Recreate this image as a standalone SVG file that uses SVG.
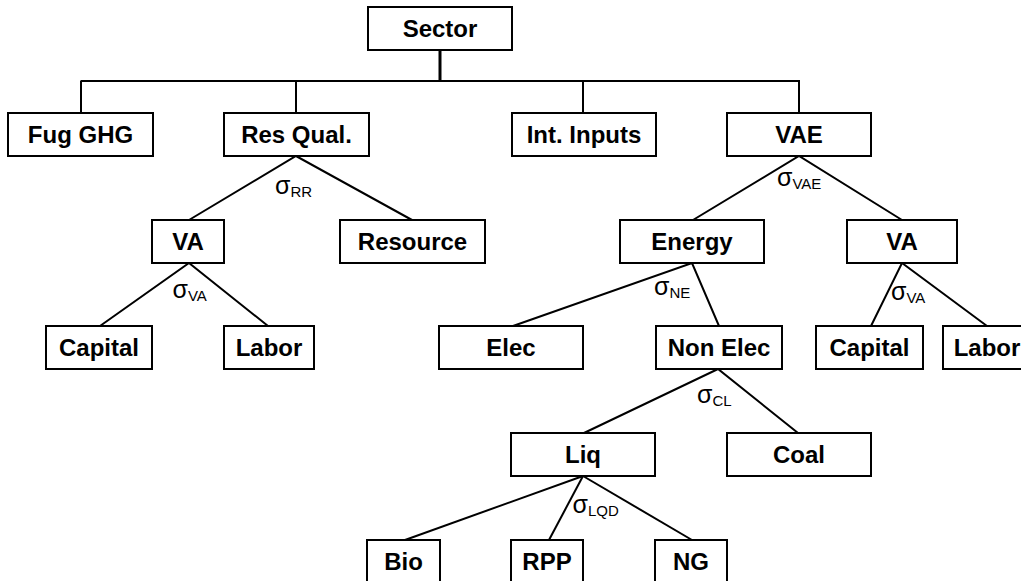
<svg xmlns="http://www.w3.org/2000/svg" width="1021" height="581" viewBox="0 0 1021 581">
<style>
.box{fill:#fff;stroke:#000;stroke-width:2}
.lbl{font-family:"Liberation Sans",Arial,sans-serif;font-weight:bold;font-size:24px;text-anchor:middle;fill:#000}
.sig{font-family:"Liberation Sans",Arial,sans-serif;font-size:25px;fill:#000}
.sub{font-size:15px}
#connectors line,#connectors polyline{stroke:#000;stroke-width:2;fill:none}
</style>
<rect width="1021" height="581" fill="#fff"/>
<g id="connectors">
<line x1="440" y1="50" x2="440" y2="81" style="stroke-width:3"/>
<line x1="80.5" y1="81" x2="799" y2="81"/>
<line x1="81" y1="81" x2="81" y2="113"/>
<line x1="296" y1="81" x2="296" y2="113"/>
<line x1="583" y1="81" x2="583" y2="113"/>
<line x1="799" y1="80" x2="799" y2="113"/>
<polyline points="189,220 296,156 412,220"/>
<polyline points="100,326 189,263 268,326"/>
<polyline points="693,220 799,156 902,220"/>
<polyline points="513,326 692,263 719,326"/>
<polyline points="871,326 902,263 987,326"/>
<polyline points="584,433 718,369 798,433"/>
<line x1="583" y1="476" x2="405" y2="540"/>
<line x1="583" y1="476" x2="549" y2="540"/>
<line x1="583" y1="476" x2="692" y2="540"/>
</g>
<g id="sector"><rect class="box" x="368" y="7" width="144" height="43"/><text class="lbl" x="440" y="37">Sector</text></g>
<g id="fuggh"><rect class="box" x="8" y="113" width="145" height="43"/><text class="lbl" x="80.5" y="143">Fug GHG</text></g>
<g id="resqual"><rect class="box" x="224" y="113" width="145" height="43"/><text class="lbl" x="296.5" y="143">Res Qual.</text></g>
<g id="intinputs"><rect class="box" x="512" y="113" width="144" height="43"/><text class="lbl" x="584" y="143">Int. Inputs</text></g>
<g id="vae"><rect class="box" x="727" y="113" width="144" height="43"/><text class="lbl" x="799" y="143">VAE</text></g>
<g id="va1"><rect class="box" x="152" y="220" width="72" height="43"/><text class="lbl" x="188" y="250">VA</text></g>
<g id="resource"><rect class="box" x="340" y="220" width="145" height="43"/><text class="lbl" x="412.5" y="250">Resource</text></g>
<g id="energy"><rect class="box" x="620" y="220" width="144" height="43"/><text class="lbl" x="692" y="250">Energy</text></g>
<g id="va2"><rect class="box" x="847" y="220" width="110" height="43"/><text class="lbl" x="902" y="250">VA</text></g>
<g id="capital1"><rect class="box" x="46" y="326" width="106" height="43"/><text class="lbl" x="99" y="356">Capital</text></g>
<g id="labor1"><rect class="box" x="224" y="326" width="90" height="43"/><text class="lbl" x="269" y="356">Labor</text></g>
<g id="elec"><rect class="box" x="439" y="326" width="144" height="43"/><text class="lbl" x="511" y="356">Elec</text></g>
<g id="nonelec"><rect class="box" x="656" y="326" width="126" height="43"/><text class="lbl" x="719" y="356">Non Elec</text></g>
<g id="capital2"><rect class="box" x="816" y="326" width="107" height="43"/><text class="lbl" x="869.5" y="356">Capital</text></g>
<g id="labor2"><rect class="box" x="943" y="326" width="90" height="43"/><text class="lbl" x="987" y="356">Labor</text></g>
<g id="liq"><rect class="box" x="511" y="433" width="144" height="43"/><text class="lbl" x="583" y="463">Liq</text></g>
<g id="coal"><rect class="box" x="727" y="433" width="144" height="43"/><text class="lbl" x="799" y="463">Coal</text></g>
<g id="bio"><rect class="box" x="367" y="540" width="73" height="43"/><text class="lbl" x="403.5" y="570">Bio</text></g>
<g id="rpp"><rect class="box" x="511" y="540" width="72" height="43"/><text class="lbl" x="547" y="570">RPP</text></g>
<g id="ng"><rect class="box" x="655" y="540" width="72" height="43"/><text class="lbl" x="691" y="570">NG</text></g>
<g id="elasticities">
<text class="sig" x="275" y="194">σ<tspan class="sub" dy="3.3">RR</tspan></text>
<text class="sig" x="172.5" y="298">σ<tspan class="sub" dy="3.3">VA</tspan></text>
<text class="sig" x="777" y="186">σ<tspan class="sub" dy="3.3">VAE</tspan></text>
<text class="sig" x="654" y="295">σ<tspan class="sub" dy="3.3">NE</tspan></text>
<text class="sig" x="891" y="300">σ<tspan class="sub" dy="3.3">VA</tspan></text>
<text class="sig" x="697" y="403">σ<tspan class="sub" dy="3.3">CL</tspan></text>
<text class="sig" x="572.5" y="513">σ<tspan class="sub" dy="3.3">LQD</tspan></text>
</g>
</svg>
